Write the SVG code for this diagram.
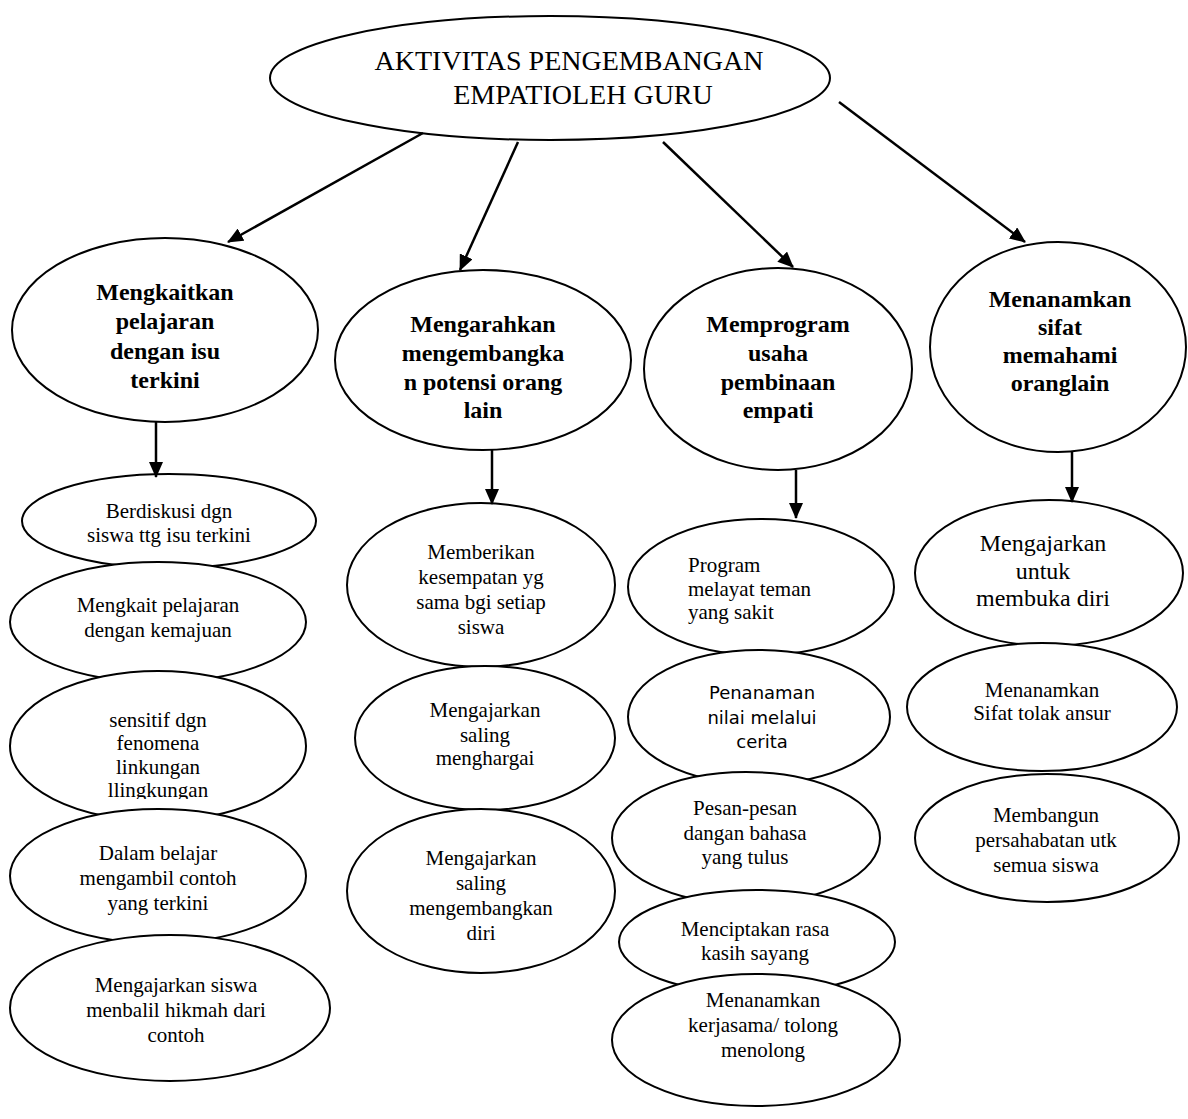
<svg xmlns="http://www.w3.org/2000/svg" width="1188" height="1119" viewBox="0 0 1188 1119">
  <defs>
    <marker id="arrow" viewBox="0 0 16 14" refX="15" refY="7" markerWidth="16" markerHeight="14" markerUnits="userSpaceOnUse" orient="auto">
      <path d="M0,0 L16,7 L0,14 z" fill="#000"/>
    </marker>
    <clipPath id="clip-sensitif">
      <rect x="0" y="700" width="340" height="99"/>
    </clipPath>
  </defs>
  <style>
    rect.bg { fill: #fff; }
    .node ellipse { fill: #fff; stroke: #000; stroke-width: 2; }
    text { font-family: "Liberation Serif", "Times New Roman", serif; fill: #000; text-anchor: middle; }
    .title { font-size: 28px; }
    .head { font-size: 24px; font-weight: bold; }
    .item { font-size: 21px; }
    .big { font-size: 24px; }
    .sans { font-family: "DejaVu Sans", Verdana, sans-serif; font-size: 18px; }
    .left { text-anchor: start; }
    .edges line { stroke: #000; stroke-width: 2.5; marker-end: url(#arrow); }
  </style>
  <rect class="bg" x="0" y="0" width="1188" height="1119"/>

  <!-- root -->
  <g id="root" class="node">
    <ellipse cx="550" cy="78" rx="280" ry="62"/>
    <text class="title" x="569" y="70">AKTIVITAS PENGEMBANGAN</text>
    <text class="title" x="583" y="104">EMPATIOLEH GURU</text>
  </g>

  <!-- column 1 -->
  <g id="mengkaitkan" class="node">
    <ellipse cx="165" cy="330" rx="153" ry="92"/>
    <text class="head" x="165" y="300">Mengkaitkan</text>
    <text class="head" x="165" y="329">pelajaran</text>
    <text class="head" x="165" y="359">dengan isu</text>
    <text class="head" x="165" y="388">terkini</text>
  </g>
  <g id="berdiskusi" class="node">
    <ellipse cx="169" cy="521" rx="147" ry="47"/>
    <text class="item" x="169" y="518">Berdiskusi dgn</text>
    <text class="item" x="169" y="542">siswa ttg isu terkini</text>
  </g>
  <g id="mengkait" class="node">
    <ellipse cx="158" cy="622" rx="148" ry="60"/>
    <text class="item" x="158" y="612">Mengkait pelajaran</text>
    <text class="item" x="158" y="637">dengan kemajuan</text>
  </g>
  <g id="sensitif" class="node">
    <ellipse cx="158" cy="746" rx="148" ry="75"/>
    <g clip-path="url(#clip-sensitif)">
      <text class="item" x="158" y="727">sensitif dgn</text>
      <text class="item" x="158" y="750">fenomena</text>
      <text class="item" x="158" y="774">linkungan</text>
      <text class="item" x="158" y="797">llingkungan</text>
    </g>
  </g>
  <g id="dalam-belajar" class="node">
    <ellipse cx="158" cy="876" rx="148" ry="67"/>
    <text class="item" x="158" y="860">Dalam belajar</text>
    <text class="item" x="158" y="885">mengambil contoh</text>
    <text class="item" x="158" y="910">yang terkini</text>
  </g>
  <g id="hikmah" class="node">
    <ellipse cx="170" cy="1008" rx="160" ry="73"/>
    <text class="item" x="176" y="992">Mengajarkan siswa</text>
    <text class="item" x="176" y="1017">menbalil hikmah dari</text>
    <text class="item" x="176" y="1042">contoh</text>
  </g>

  <!-- column 2 -->
  <g id="mengarahkan" class="node">
    <ellipse cx="483" cy="360" rx="148" ry="90"/>
    <text class="head" x="483" y="332">Mengarahkan</text>
    <text class="head" x="483" y="361">mengembangka</text>
    <text class="head" x="483" y="390">n potensi orang</text>
    <text class="head" x="483" y="418">lain</text>
  </g>
  <g id="kesempatan" class="node">
    <ellipse cx="481" cy="585" rx="134" ry="82"/>
    <text class="item" x="481" y="559">Memberikan</text>
    <text class="item" x="481" y="584">kesempatan yg</text>
    <text class="item" x="481" y="609">sama bgi setiap</text>
    <text class="item" x="481" y="634">siswa</text>
  </g>
  <g id="menghargai" class="node">
    <ellipse cx="485" cy="738" rx="130" ry="72"/>
    <text class="item" x="485" y="717">Mengajarkan</text>
    <text class="item" x="485" y="742">saling</text>
    <text class="item" x="485" y="765">menghargai</text>
  </g>
  <g id="mengembangkan-diri" class="node">
    <ellipse cx="481" cy="891" rx="134" ry="82"/>
    <text class="item" x="481" y="865">Mengajarkan</text>
    <text class="item" x="481" y="890">saling</text>
    <text class="item" x="481" y="915">mengembangkan</text>
    <text class="item" x="481" y="940">diri</text>
  </g>

  <!-- column 3 -->
  <g id="memprogram" class="node">
    <ellipse cx="778" cy="369" rx="134" ry="101"/>
    <text class="head" x="778" y="332">Memprogram</text>
    <text class="head" x="778" y="361">usaha</text>
    <text class="head" x="778" y="390">pembinaan</text>
    <text class="head" x="778" y="418">empati</text>
  </g>
  <g id="melayat" class="node">
    <ellipse cx="761" cy="587" rx="133" ry="68"/>
    <text class="item left" x="688" y="572">Program</text>
    <text class="item left" x="688" y="596">melayat teman</text>
    <text class="item left" x="688" y="619">yang sakit</text>
  </g>
  <g id="penanaman" class="node">
    <ellipse cx="759" cy="717" rx="131" ry="67"/>
    <text class="sans" x="762" y="699">Penanaman</text>
    <text class="sans" x="762" y="724">nilai melalui</text>
    <text class="sans" x="762" y="748">cerita</text>
  </g>
  <g id="pesan" class="node">
    <ellipse cx="746" cy="838" rx="134" ry="66"/>
    <text class="item" x="745" y="815">Pesan-pesan</text>
    <text class="item" x="745" y="840">dangan bahasa</text>
    <text class="item" x="745" y="864">yang tulus</text>
  </g>
  <g id="kasih-sayang" class="node">
    <ellipse cx="757" cy="942" rx="138" ry="52"/>
    <text class="item" x="755" y="936">Menciptakan rasa</text>
    <text class="item" x="755" y="960">kasih sayang</text>
  </g>
  <g id="kerjasama" class="node">
    <ellipse cx="756" cy="1040" rx="144" ry="66"/>
    <text class="item" x="763" y="1007">Menanamkan</text>
    <text class="item" x="763" y="1032">kerjasama/ tolong</text>
    <text class="item" x="763" y="1057">menolong</text>
  </g>

  <!-- column 4 -->
  <g id="memahami" class="node">
    <ellipse cx="1058" cy="347" rx="128" ry="105"/>
    <text class="head" x="1060" y="307">Menanamkan</text>
    <text class="head" x="1060" y="335">sifat</text>
    <text class="head" x="1060" y="363">memahami</text>
    <text class="head" x="1060" y="391">oranglain</text>
  </g>
  <g id="membuka-diri" class="node">
    <ellipse cx="1049" cy="573" rx="134" ry="73"/>
    <text class="big" x="1043" y="551">Mengajarkan</text>
    <text class="big" x="1043" y="579">untuk</text>
    <text class="big" x="1043" y="606">membuka diri</text>
  </g>
  <g id="tolak-ansur" class="node">
    <ellipse cx="1042" cy="707" rx="135" ry="64"/>
    <text class="item" x="1042" y="697">Menanamkan</text>
    <text class="item" x="1042" y="720">Sifat tolak ansur</text>
  </g>
  <g id="persahabatan" class="node">
    <ellipse cx="1047" cy="838" rx="132" ry="64"/>
    <text class="item" x="1046" y="822">Membangun</text>
    <text class="item" x="1046" y="847">persahabatan utk</text>
    <text class="item" x="1046" y="872">semua siswa</text>
  </g>

  <!-- connectors -->
  <g id="connectors" class="edges">
    <line x1="423" y1="133" x2="228" y2="242"/>
    <line x1="518" y1="142" x2="460" y2="270"/>
    <line x1="663" y1="142" x2="793" y2="267"/>
    <line x1="839" y1="102" x2="1025" y2="242"/>
    <line x1="156" y1="422" x2="156" y2="477"/>
    <line x1="492" y1="450" x2="492" y2="504"/>
    <line x1="796" y1="470" x2="796" y2="518"/>
    <line x1="1072" y1="452" x2="1072" y2="502"/>
  </g>
</svg>
